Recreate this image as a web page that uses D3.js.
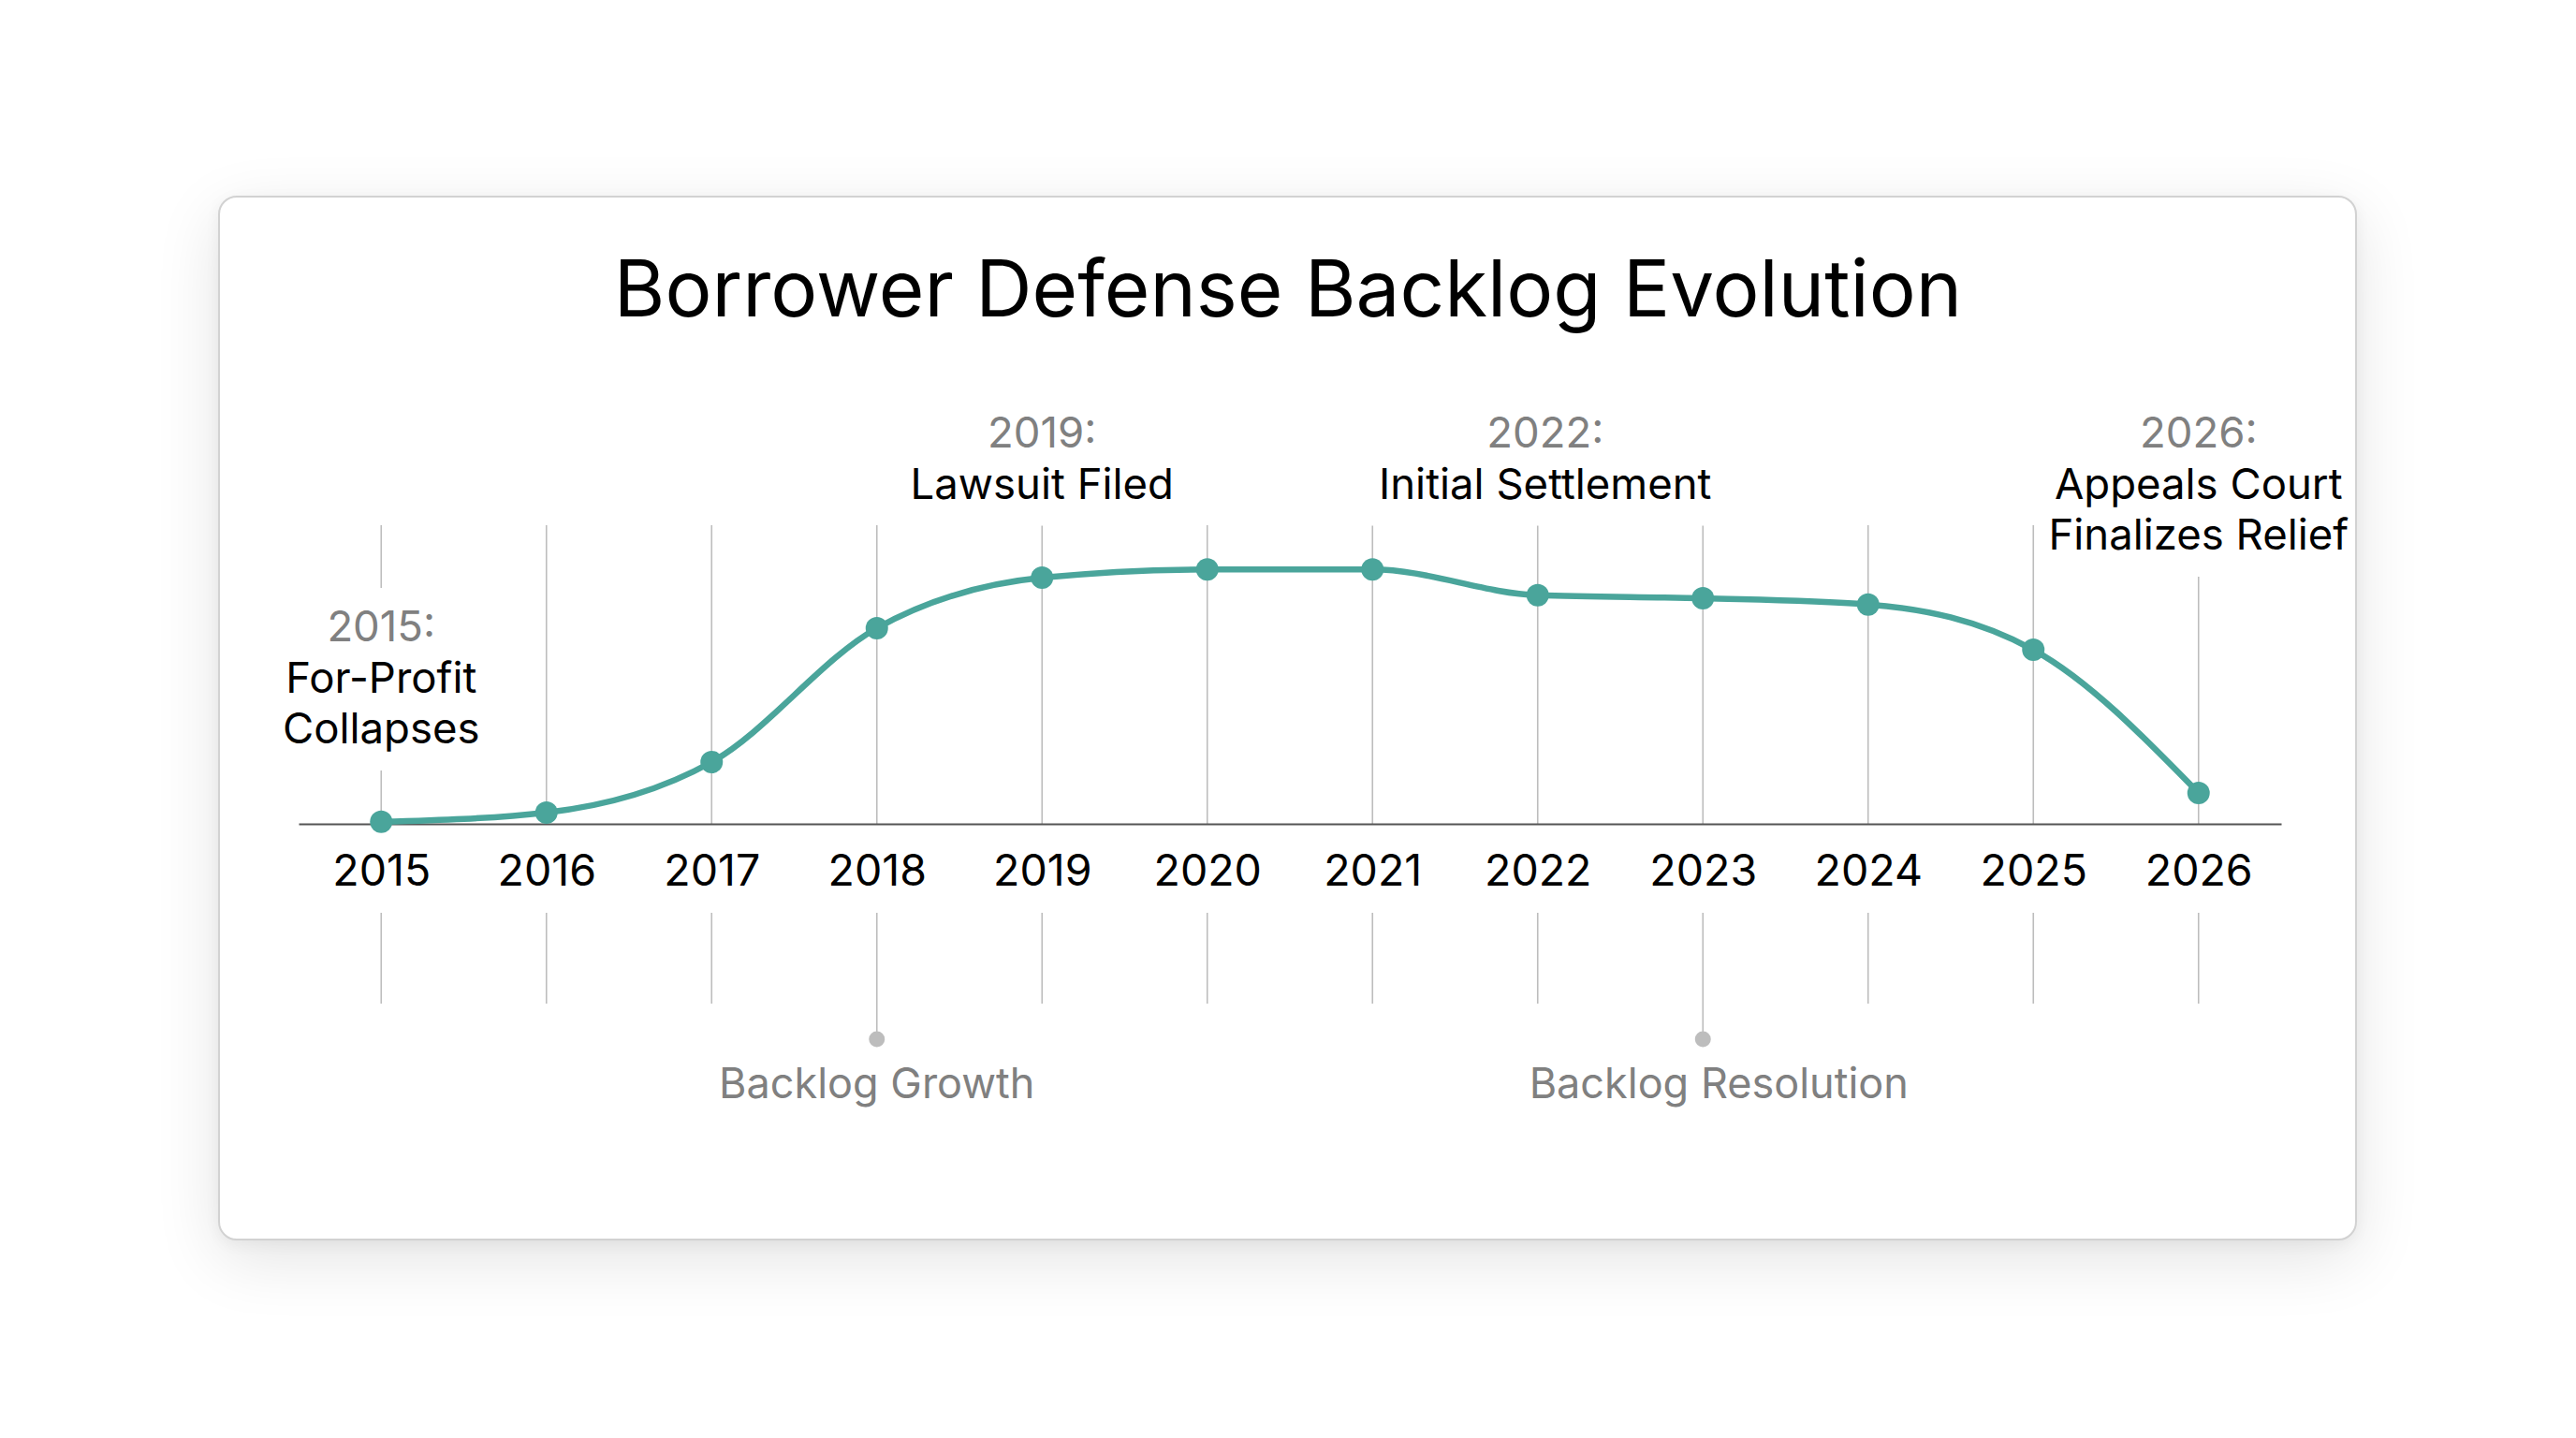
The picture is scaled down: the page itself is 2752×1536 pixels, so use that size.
<!DOCTYPE html>
<html>
<head>
<meta charset="utf-8">
<script src="https://cdn.jsdelivr.net/npm/d3@7"></script>
<style>
  html, body { margin: 0; padding: 0; background: #ffffff; }
  body { width: 2752px; height: 1536px; position: relative; overflow: hidden; font-family: Inter, "Noto Sans", sans-serif; }
  #card {
    position: absolute; left: 233px; top: 209px; width: 2281px; height: 1112px;
    border: 2px solid #d2d2d2; border-radius: 20px; background: #fff;
    box-shadow: 0 20px 70px rgba(0,0,0,0.11), 0 4px 16px rgba(0,0,0,0.05);
  }
  svg { position: absolute; left: 0; top: 0; }
</style>
</head>
<body>
<div id="card"></div>
<svg id="chart" width="2752" height="1536"></svg>
<script>
// ---- data ----
const years = [2015, 2016, 2017, 2018, 2019, 2020, 2021, 2022, 2023, 2024, 2025, 2026];
const backlog = [2, 11, 60, 190, 239, 247, 247, 222, 219, 213, 169, 30]; // pending claims (thousands, est.)
const yearLabels = ["2015", "2016", "2017", "2018", "2019", "2020", "2021", "2022", "2023", "2024", "2025", "2026"];
const eventYears = [2015, 2019, 2022, 2026];
const eventTitles = ["2015:", "2019:", "2022:", "2026:"];
const eventTexts = [["For-Profit", "Collapses"], ["Lawsuit Filed"], ["Initial Settlement"], ["Appeals Court", "Finalizes Relief"]];
const phaseYears = [2018, 2023];
const phaseNames = ["Backlog Growth", "Backlog Resolution"];
const title = "Borrower Defense Backlog Evolution";

// ---- layout ----
const svg = d3.select("#chart");
const axisY = 880, gridTop = 561;
const cardLeft = 237, cardRight = 2514;
const x = d3.scalePoint().domain(years).range([319, 2437]).padding(0.5);
const y = d3.scaleLinear().domain([0, 300]).range([axisY, axisY - 330]);
const teal = "#4aa59b", gridCol = "#bdbdbd";

svg.append("text").attr("x", 1376).attr("y", 338).attr("text-anchor", "middle")
  .attr("font-size", 83.5).attr("fill", "#000").text(title);

// vertical grid lines
svg.append("g").selectAll("line").data(years).join("line")
  .attr("x1", d => x(d)).attr("x2", d => x(d))
  .attr("y1", gridTop).attr("y2", axisY)
  .attr("stroke", gridCol).attr("stroke-width", 1.6);

// lower tick lines
svg.append("g").selectAll("line").data(years).join("line")
  .attr("x1", d => x(d)).attr("x2", d => x(d))
  .attr("y1", 975).attr("y2", d => phaseYears.includes(d) ? 1110 : 1072)
  .attr("stroke", gridCol).attr("stroke-width", 1.6);

// phase markers
const phaseDx = [0, 17];
const pg = svg.append("g");
phaseYears.forEach((yr, i) => {
  pg.append("circle").attr("cx", x(yr)).attr("cy", 1110).attr("r", 8.5).attr("fill", gridCol);
  pg.append("text").attr("x", x(yr) + phaseDx[i]).attr("y", 1173).attr("text-anchor", "middle")
    .attr("font-size", 45).attr("fill", "#808080").text(phaseNames[i]);
});

// year axis
const axis = d3.axisBottom(x).tickSize(0).tickPadding(0).tickFormat((d, i) => yearLabels[i]);
const ag = svg.append("g").attr("transform", `translate(0,${axisY})`).call(axis);
ag.select(".domain").attr("stroke", "#555").attr("stroke-width", 2);
ag.selectAll("text").attr("font-size", 46.5).attr("font-family", "Inter, sans-serif")
  .attr("fill", "#000").attr("dy", null).attr("y", 66);

// event annotations
const lineH = 54.5;
const firstBaseline = { 2015: 685, 2019: 478, 2022: 478, 2026: 478 };
const evDx = { 2015: 0, 2019: 0, 2022: 8, 2026: 0 };
const eg = svg.append("g");
eventYears.forEach((yr, i) => {
  const g = eg.append("g");
  const cx = x(yr) + evDx[yr];
  const b0 = firstBaseline[yr];
  const box = g.append("rect").attr("fill", "#fff");
  const t = g.append("text").attr("text-anchor", "middle").attr("font-size", 45.5);
  t.append("tspan").attr("x", cx).attr("y", b0).attr("fill", "#808080").text(eventTitles[i]);
  eventTexts[i].forEach((s, j) => {
    t.append("tspan").attr("x", cx).attr("y", b0 + lineH * (j + 1)).attr("fill", "#000").text(s);
  });
  const bb = t.node().getBBox();
  const last = b0 + lineH * eventTexts[i].length;
  const bx0 = Math.max(cardLeft, bb.x - 8), bx1 = Math.min(cardRight, bb.x + bb.width + 8);
  box.attr("x", bx0).attr("width", bx1 - bx0)
     .attr("y", b0 - 57).attr("height", last + 29 - (b0 - 57));
});

// curve
const pts = years.map((yr, i) => [x(yr), y(backlog[i])]);
svg.append("path").attr("d", d3.line().curve(d3.curveMonotoneX)(pts))
  .attr("fill", "none").attr("stroke", teal).attr("stroke-width", 6.5).attr("stroke-linecap", "round");
svg.append("g").selectAll("circle").data(pts).join("circle")
  .attr("cx", d => d[0]).attr("cy", d => d[1]).attr("r", 12).attr("fill", teal);
</script>
</body>
</html>
